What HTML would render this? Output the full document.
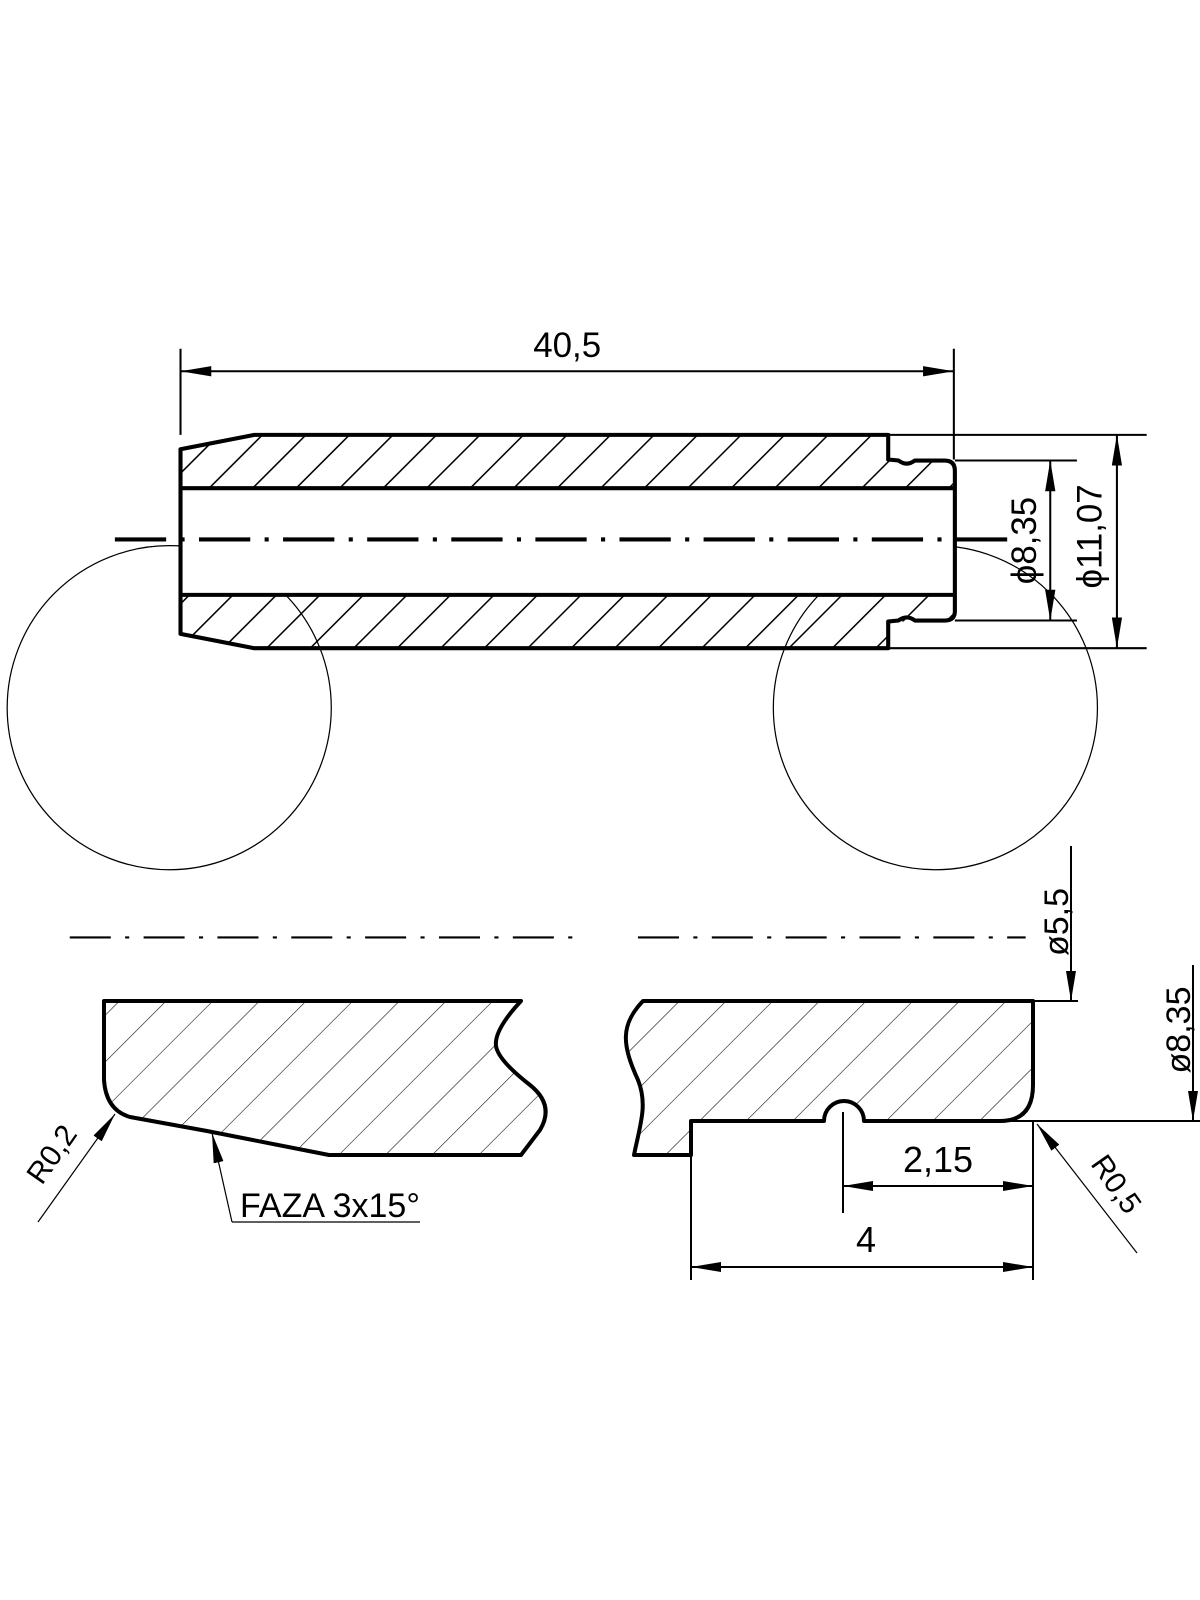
<!DOCTYPE html>
<html><head><meta charset="utf-8"><style>html,body{margin:0;padding:0;background:#fff}svg{display:block}</style></head>
<body>
<svg width="1200" height="1600" viewBox="0 0 1170 1560" xmlns="http://www.w3.org/2000/svg" font-family="Liberation Sans, sans-serif">
<defs>
<pattern id="h1" width="30" height="30" patternUnits="userSpaceOnUse" patternTransform="rotate(45)">
<line x1="0" y1="0" x2="0" y2="30" stroke="#000" stroke-width="3"/></pattern>
<pattern id="h2" width="33" height="33" patternUnits="userSpaceOnUse" patternTransform="rotate(45)">
<line x1="0" y1="0" x2="0" y2="33" stroke="#000" stroke-width="1.1"/></pattern>
<marker id="a" viewBox="0 0 30 10" refX="30" refY="5" markerWidth="30" markerHeight="10" markerUnits="userSpaceOnUse" orient="auto-start-reverse"><path d="M0,0L30,5L0,10z"/></marker>
</defs>
<circle cx="165" cy="690" r="158" fill="none" stroke="#000" stroke-width="1.2"/>
<circle cx="912" cy="690" r="158" fill="none" stroke="#000" stroke-width="1.2"/>
<path d="M248,424 L866,424 L866,448 L921,448 Q931,448 931,458 L931,476 L176,476 L176,438 Z" fill="url(#h1)"/>
<path d="M176,580 L931,580 L931,598 Q931,606 921,606 L866,606 L866,632 L248,632 L176,618 Z" fill="url(#h1)"/>
<rect x="176" y="476" width="755" height="104" fill="#fff"/>
<path d="M248,424 L866,424 L866,448 L876,449 Q884,455 892,449 L921,449 Q931,449 931,459 L931,596 Q931,605 921,605 L892,605 Q884,599 876,605 L866,606 L866,632 L248,632 L176,618 L176,438 Z" fill="none" stroke="#000" stroke-width="4" stroke-linejoin="round"/>
<line x1="176" y1="476" x2="931" y2="476" stroke="#000" stroke-width="4"/>
<line x1="176" y1="580" x2="931" y2="580" stroke="#000" stroke-width="4"/>
<line x1="112" y1="526" x2="990" y2="526" stroke="#000" stroke-width="4" stroke-dasharray="50,14,4,14"/>
<line x1="176" y1="340" x2="176" y2="424" stroke="#000" stroke-width="2"/>
<line x1="930" y1="340" x2="930" y2="448" stroke="#000" stroke-width="2"/>
<line x1="176" y1="362" x2="930" y2="362" stroke="#000" stroke-width="2" marker-start="url(#a)" marker-end="url(#a)"/>
<text x="553" y="348" font-size="34" text-anchor="middle">40,5</text>
<line x1="866" y1="424" x2="1118" y2="424" stroke="#000" stroke-width="2"/>
<line x1="866" y1="632" x2="1118" y2="632" stroke="#000" stroke-width="2"/>
<line x1="931" y1="449" x2="1050" y2="449" stroke="#000" stroke-width="2"/>
<line x1="931" y1="605" x2="1050" y2="605" stroke="#000" stroke-width="2"/>
<line x1="1024" y1="449" x2="1024" y2="605" stroke="#000" stroke-width="2" marker-start="url(#a)" marker-end="url(#a)"/>
<line x1="1089" y1="424" x2="1089" y2="632" stroke="#000" stroke-width="2" marker-start="url(#a)" marker-end="url(#a)"/>
<text transform="translate(1010,527) rotate(-90)" font-size="34" text-anchor="middle">ϕ8,35</text>
<text transform="translate(1074,523) rotate(-90)" font-size="34" text-anchor="middle">ϕ11,07</text>
<line x1="68" y1="914" x2="558" y2="914" stroke="#000" stroke-width="2" stroke-dasharray="40,14,4,14"/>
<line x1="622" y1="914" x2="1000" y2="914" stroke="#000" stroke-width="2" stroke-dasharray="40,14,4,14"/>
<g transform="scale(0.975)">
<path d="M104,1001 L521,1001 Q494,1030 496,1046 Q498,1060 530,1085 Q555,1105 540,1130 L521,1155 L329,1155 L207,1131 L130,1117 Q106,1110 104,1080 Z" fill="url(#h2)" stroke="#000" stroke-width="4" stroke-linejoin="round"/>
<line x1="38" y1="1222" x2="115" y2="1114" stroke="#000" stroke-width="1.2" marker-end="url(#a)"/>
<text transform="translate(60,1160) rotate(-55)" font-size="30" text-anchor="middle">R0,2</text>
<line x1="232" y1="1222" x2="212" y2="1133" stroke="#000" stroke-width="1.2" marker-end="url(#a)"/>
<line x1="232" y1="1222" x2="420" y2="1222" stroke="#000" stroke-width="1.2"/>
<text x="240" y="1217" font-size="34">FAZA 3x15°</text>
<path d="M643,1001 L1033,1001 L1033,1085 Q1033,1121 1000,1121 L864,1121 A20,20 0 0 0 824,1121 L691,1121 L691,1155 L634,1155 C640,1125 648,1105 638,1080 C622,1045 620,1025 643,1001 Z" fill="url(#h2)" stroke="#000" stroke-width="4" stroke-linejoin="round"/>
<line x1="1033" y1="1121" x2="1033" y2="1280" stroke="#000" stroke-width="2"/>
<line x1="691" y1="1155" x2="691" y2="1280" stroke="#000" stroke-width="2"/>
<line x1="843" y1="1112" x2="843" y2="1213" stroke="#000" stroke-width="2"/>
<line x1="843" y1="1186" x2="1033" y2="1186" stroke="#000" stroke-width="2" marker-start="url(#a)" marker-end="url(#a)"/>
<line x1="691" y1="1267" x2="1033" y2="1267" stroke="#000" stroke-width="2" marker-start="url(#a)" marker-end="url(#a)"/>
<text x="938" y="1172" font-size="36" text-anchor="middle">2,15</text>
<text x="866" y="1252" font-size="36" text-anchor="middle">4</text>
<line x1="1033" y1="1001" x2="1078" y2="1001" stroke="#000" stroke-width="2"/>
<line x1="1071" y1="846" x2="1071" y2="1001" stroke="#000" stroke-width="2" marker-end="url(#a)"/>
<text transform="translate(1068,922) rotate(-90)" font-size="34" text-anchor="middle">ø5,5</text>
<line x1="1000" y1="1121" x2="1200" y2="1121" stroke="#000" stroke-width="2"/>
<line x1="1193" y1="965" x2="1193" y2="1121" stroke="#000" stroke-width="2" marker-end="url(#a)"/>
<text transform="translate(1190,1030) rotate(-90)" font-size="34" text-anchor="middle">ø8,35</text>
<line x1="1137" y1="1253" x2="1037" y2="1124" stroke="#000" stroke-width="1.2" marker-end="url(#a)"/>
<text transform="translate(1108,1190) rotate(55)" font-size="30" text-anchor="middle">R0,5</text>
</g>
</svg>
</body></html>
